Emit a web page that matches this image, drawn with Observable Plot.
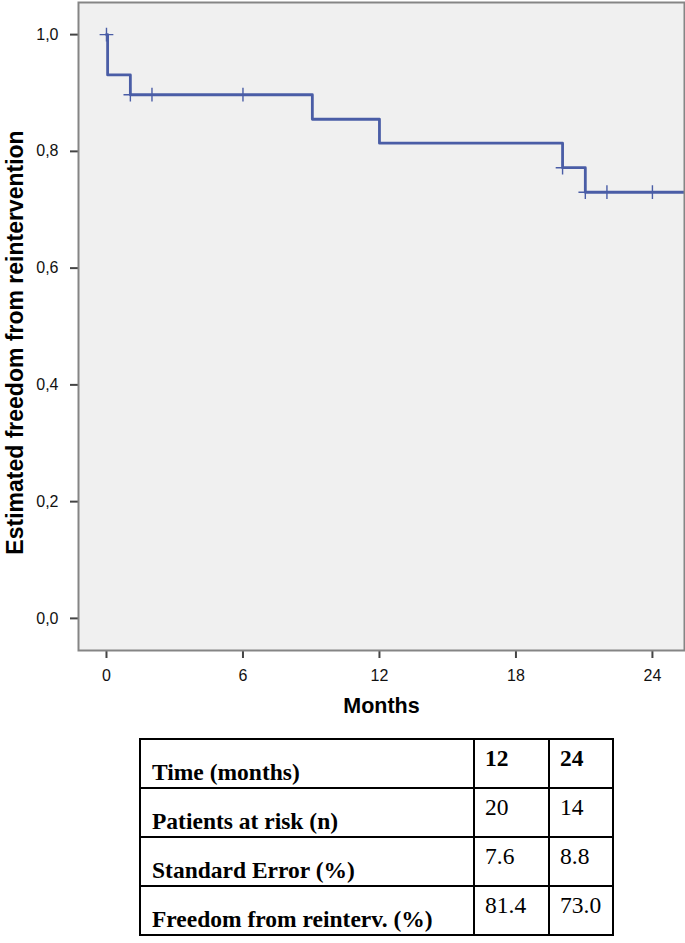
<!DOCTYPE html>
<html>
<head>
<meta charset="utf-8">
<script src="https://cdn.jsdelivr.net/npm/d3@7"></script>
<script src="https://cdn.jsdelivr.net/npm/@observablehq/plot@0.6"></script>
<style>
  html, body { margin: 0; padding: 0; background: #fff; }
  #chart svg { display: block; }
  #tbl {
    margin-left: 139px; margin-top: 13px;
    border-collapse: collapse;
    font-family: "Liberation Serif", "Times New Roman", serif;
    font-size: 23.5px; color: #000;
  }
  #tbl td { border: 2px solid #000; height: 41px; padding: 0 6px; line-height: 1.05; }
  #tbl td.lab { width: 315px; vertical-align: bottom; font-weight: bold; padding-bottom: 2px; padding-left: 11px; }
  #tbl td.num { vertical-align: top; padding-top: 6px; padding-left: 10px; padding-right: 2px; }
  #tbl td.c1 { width: 61px; }
  #tbl td.c2 { width: 50px; }
  #tbl tr.head td.num { font-weight: bold; }
</style>
</head>
<body>
<div id="chart"></div>
<table id="tbl"></table>
<script>
// Kaplan-Meier curve
const stepTimes  = [0, 0.05, 1.05, 9.05, 12, 20.05, 21.05, 25.4];
const stepValues = [1.0, 0.931, 0.897, 0.855, 0.814, 0.772, 0.730, 0.730];
// censored observations
const censorTimes  = [0, 1.05, 2, 6, 20.05, 21.05, 22, 24];
const censorValues = [1.0, 0.897, 0.897, 0.897, 0.772, 0.730, 0.730, 0.730];
// axes
const xTicks = [0, 6, 12, 18, 24];
const yTicks = [0, 0.2, 0.4, 0.6, 0.8, 1.0];
const xLabel = "Months";
const yLabel = "Estimated freedom from reintervention";
// table
const tableRowLabels = ["Time (months)", "Patients at risk (n)", "Standard Error (%)", "Freedom from reinterv. (%)"];
const tableTimes = ["12", "24"];
const atRisk = ["20", "14"];
const stdError = ["7.6", "8.8"];
const freedom = ["81.4", "73.0"];

const curve = stepTimes.map((t, i) => ({t, s: stepValues[i]}));
const censored = censorTimes.map((t, i) => ({t, s: censorValues[i]}));
const lineColor = "#4a5da6";

const chart = Plot.plot({
  width: 685,
  height: 725,
  marginLeft: 78,
  marginRight: 1,
  marginTop: 2,
  marginBottom: 75,
  style: {fontFamily: "'Liberation Sans', Arial, sans-serif", fontSize: "16px", background: "#fff", color: "#111"},
  x: {domain: [-1.23, 25.41]},
  y: {domain: [-0.055, 1.055]},
  marks: [
    Plot.frame({fill: "#f0f0f0", stroke: "none"}),
    Plot.axisX({ticks: xTicks, tickSize: 8, tickPadding: 11, stroke: "#444", strokeWidth: 2, label: null, fontSize: 16}),
    Plot.axisY({ticks: yTicks, tickSize: 8, tickPadding: 12, stroke: "#444", strokeWidth: 2, label: null, fontSize: 16,
                tickFormat: d => d.toFixed(1).replace(".", ",")}),
    Plot.line(curve, {x: "t", y: "s", curve: "step-after", stroke: lineColor, strokeWidth: 2.8, clip: true}),
    Plot.dot(censored, {x: "t", y: "s", symbol: "plus", r: 4.5, stroke: lineColor, strokeWidth: 1.4}),
    Plot.frame({stroke: "#858585", strokeWidth: 2}),
    Plot.text([xLabel], {text: d => d, frameAnchor: "bottom", dy: 62, fontSize: 21.5, fontWeight: "bold", fill: "#000"}),
    Plot.text([yLabel], {text: d => d, frameAnchor: "left", textAnchor: "middle", rotate: -90, dx: -63, dy: 16, fontSize: 23, fontWeight: "bold", fill: "#000"})
  ]
});
document.getElementById("chart").appendChild(chart);

// Build the table from the arrays
const rows = [tableTimes, atRisk, stdError, freedom];
const tbl = d3.select("#tbl");
rows.forEach((vals, i) => {
  const tr = tbl.append("tr").attr("class", i === 0 ? "head" : null);
  tr.append("td").attr("class", "lab").text(tableRowLabels[i]);
  vals.forEach((v, j) => tr.append("td").attr("class", "num c" + (j + 1)).text(v));
});
</script>
</body>
</html>
